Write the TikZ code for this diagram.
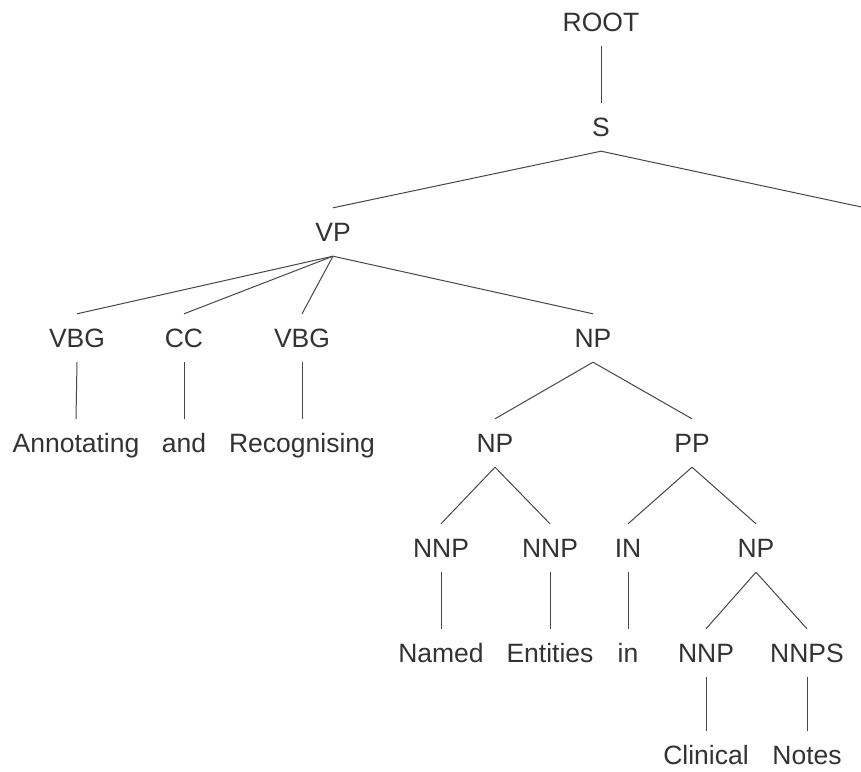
\documentclass[tikz,border=0pt]{standalone}
\usepackage{fontspec}
\setmainfont{Liberation Sans}
\usepackage{tikz}

\definecolor{txtgray}{HTML}{333333}
\definecolor{linegray}{HTML}{474747}

\tikzset{
  lbl/.style={inner sep=0pt, text height=19pt, text depth=0pt, minimum height=48pt,
    text=txtgray, font=\fontsize{26.5}{30}\selectfont},
  branch/.style={draw=linegray, line width=1pt}
}

\begin{document}
\begin{tikzpicture}[x=1pt,y=-1pt]
        \useasboundingbox[fill=white] (0,0) rectangle (861,771) ;
        \clip (0,0) rectangle (861,771) ;

        \node[lbl] (root) at (601,22) {ROOT} ;
        \node[lbl] (s) at (601,127) {S} ;
        \coordinate (sright) at (866,208) ;
        \node[lbl] (vp) at (333,232) {VP} ;

        \node[lbl] (vbga) at (77,338) {VBG} ;
        \node[lbl] (cc) at (184,338) {CC} ;
        \node[lbl] (vbgb) at (302,338) {VBG} ;
        \node[lbl] (np) at (593,338) {NP} ;

        \node[lbl] (annotating) at (76,443) {Annotating} ;
        \node[lbl] (and) at (184,443) {and} ;
        \node[lbl] (recognising) at (302,443) {Recognising} ;
        \node[lbl] (npa) at (495,443) {NP} ;
        \node[lbl] (pp) at (692,443) {PP} ;

        \node[lbl] (nnpa) at (441,548) {NNP} ;
        \node[lbl] (nnpb) at (550,548) {NNP} ;
        \node[lbl] (in) at (628,548) {IN} ;
        \node[lbl] (npb) at (756,548) {NP} ;

        \node[lbl] (named) at (441,653) {Named} ;
        \node[lbl] (entities) at (550,653) {Entities} ;
        \node[lbl] (inword) at (628,653) {in} ;
        \node[lbl] (nnpc) at (706,653) {NNP} ;
        \node[lbl] (nnps) at (807,653) {NNPS} ;

        \node[lbl] (clinical) at (706,755) {Clinical} ;
        \node[lbl] (notes) at (807,755) {Notes} ;

        \draw[branch] (root.south) -- (s.north) ;
        \draw[branch] (s.south) -- (vp.north) ;
        \draw[branch] (s.south) -- (sright) ;

        \draw[branch] (vp.south) -- (vbga.north) ;
        \draw[branch] (vp.south) -- (cc.north) ;
        \draw[branch] (vp.south) -- (vbgb.north) ;
        \draw[branch] (vp.south) -- (np.north) ;

        \draw[branch] (vbga.south) -- (annotating.north) ;
        \draw[branch] (cc.south) -- (and.north) ;
        \draw[branch] (vbgb.south) -- (recognising.north) ;
        \draw[branch] (np.south) -- (npa.north) ;
        \draw[branch] (np.south) -- (pp.north) ;

        \draw[branch] (npa.south) -- (nnpa.north) ;
        \draw[branch] (npa.south) -- (nnpb.north) ;
        \draw[branch] (pp.south) -- (in.north) ;
        \draw[branch] (pp.south) -- (npb.north) ;

        \draw[branch] (nnpa.south) -- (named.north) ;
        \draw[branch] (nnpb.south) -- (entities.north) ;
        \draw[branch] (in.south) -- (inword.north) ;
        \draw[branch] (npb.south) -- (nnpc.north) ;
        \draw[branch] (npb.south) -- (nnps.north) ;

        \draw[branch] (nnpc.south) -- (clinical.north) ;
        \draw[branch] (nnps.south) -- (notes.north) ;
      \end{tikzpicture}
\end{document}
